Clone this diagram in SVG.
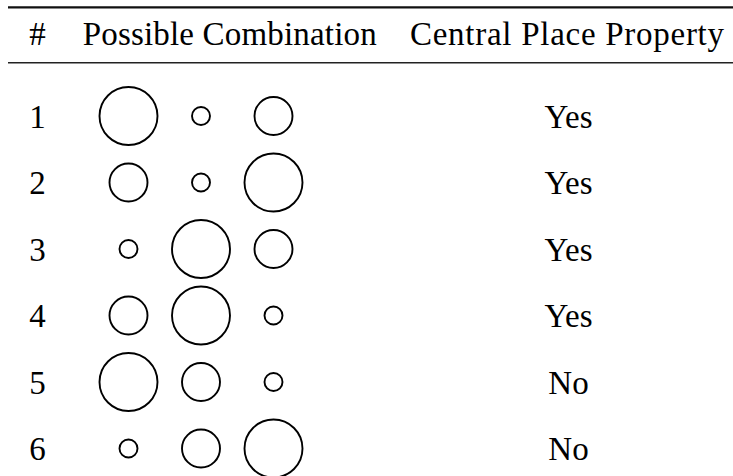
<svg xmlns="http://www.w3.org/2000/svg" width="733" height="476" viewBox="0 0 733 476">
<style>
text{font-family:"Liberation Serif","Times New Roman",serif;font-size:33px;fill:#000}
.c{fill:none;stroke:#000;stroke-width:1.9}
.m{text-anchor:middle}
</style>
<rect width="733" height="476" fill="#fff"/>
<g id="header">
<line x1="8" y1="7.3" x2="733" y2="7.3" stroke="#111" stroke-width="2.2"/>
<text x="37.5" y="45" class="m">#</text>
<text x="82.7" y="45" textLength="294" lengthAdjust="spacing">Possible Combination</text>
<text x="410" y="45" textLength="314" lengthAdjust="spacing">Central Place Property</text>
<line x1="8" y1="62.7" x2="733" y2="62.7" stroke="#222" stroke-width="1.5"/>
</g>
<g id="row1">
<text x="37.5" y="127.5" class="m">1</text>
<circle class="c" cx="128.5" cy="116" r="29"/>
<circle class="c" cx="201" cy="116" r="9"/>
<circle class="c" cx="273.5" cy="116" r="19"/>
<text x="568.5" y="127.5" class="m">Yes</text>
</g>
<g id="row2">
<text x="37.5" y="194" class="m">2</text>
<circle class="c" cx="128.5" cy="182.5" r="19"/>
<circle class="c" cx="201" cy="182.5" r="9"/>
<circle class="c" cx="273.5" cy="182.5" r="29"/>
<text x="568.5" y="194" class="m">Yes</text>
</g>
<g id="row3">
<text x="37.5" y="260.5" class="m">3</text>
<circle class="c" cx="128.5" cy="249" r="9"/>
<circle class="c" cx="201" cy="249" r="29"/>
<circle class="c" cx="273.5" cy="249" r="19"/>
<text x="568.5" y="260.5" class="m">Yes</text>
</g>
<g id="row4">
<text x="37.5" y="327" class="m">4</text>
<circle class="c" cx="128.5" cy="315.5" r="19"/>
<circle class="c" cx="201" cy="315.5" r="29"/>
<circle class="c" cx="273.5" cy="315.5" r="9"/>
<text x="568.5" y="327" class="m">Yes</text>
</g>
<g id="row5">
<text x="37.5" y="393.5" class="m">5</text>
<circle class="c" cx="128.5" cy="382" r="29"/>
<circle class="c" cx="201" cy="382" r="19"/>
<circle class="c" cx="273.5" cy="382" r="9"/>
<text x="568.5" y="393.5" class="m">No</text>
</g>
<g id="row6">
<text x="37.5" y="460" class="m">6</text>
<circle class="c" cx="128.5" cy="448.5" r="9"/>
<circle class="c" cx="201" cy="448.5" r="19"/>
<circle class="c" cx="273.5" cy="448.5" r="29"/>
<text x="568.5" y="460" class="m">No</text>
</g>
</svg>
